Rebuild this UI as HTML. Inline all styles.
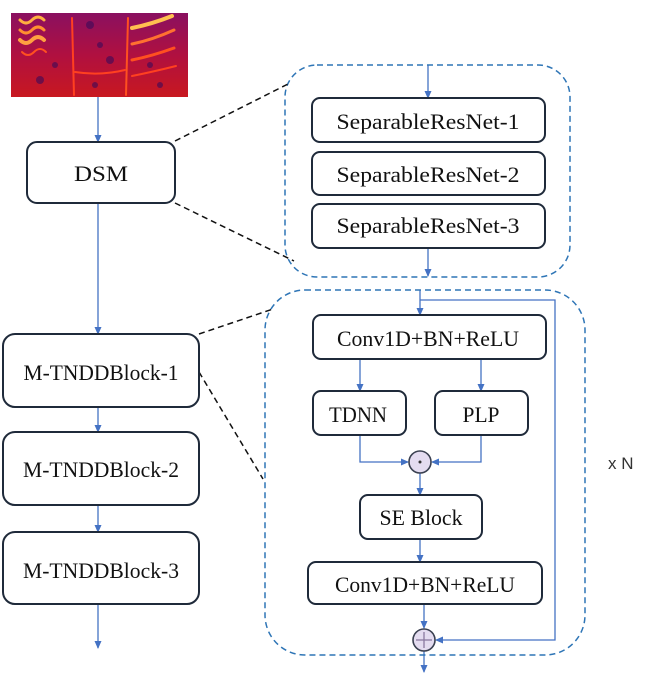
<!DOCTYPE html>
<html><head><meta charset="utf-8"><style>
html,body{margin:0;padding:0;background:#fff;}
svg{display:block;}
text{font-family:"Liberation Serif",serif;fill:#111;}
</style></head><body>
<svg width="658" height="681" viewBox="0 0 658 681" xmlns="http://www.w3.org/2000/svg">
<defs>
<marker id="a" markerWidth="8" markerHeight="8" refX="7" refY="4" orient="auto" markerUnits="userSpaceOnUse"><path d="M0,0.5 L8,4 L0,7.5 Z" fill="#4472c4"/></marker>
<linearGradient id="sg" x1="0" y1="0" x2="0" y2="1"><stop offset="0" stop-color="#8a1060"/><stop offset="0.5" stop-color="#b01040"/><stop offset="1" stop-color="#c81820"/></linearGradient>
</defs>
<rect x="11" y="13" width="177" height="84" fill="url(#sg)"/>
<g fill="none" stroke-linecap="round">
<path d="M20,20 q6,6 12,0 q6,-6 12,0" stroke="#ffb040" stroke-width="3"/>
<path d="M20,30 q6,6 12,0 q6,-6 12,0" stroke="#ff9030" stroke-width="3"/>
<path d="M20,40 q6,6 12,0 q6,-6 12,0" stroke="#ffa040" stroke-width="4"/>
<path d="M22,52 q6,6 12,0 q6,-6 12,0" stroke="#ff5020" stroke-width="2"/>
<path d="M132,28 q20,-4 40,-12" stroke="#ffc050" stroke-width="4"/>
<path d="M132,44 q20,-4 42,-14" stroke="#ff7030" stroke-width="3"/>
<path d="M132,60 q20,-4 42,-12" stroke="#ff5020" stroke-width="3"/>
<path d="M132,76 q20,-4 44,-10" stroke="#ff4020" stroke-width="2"/>
<path d="M72,18 L74,95" stroke="#ff4020" stroke-width="2"/>
<path d="M128,18 L126,95" stroke="#ff5020" stroke-width="2"/>
<path d="M75,72 q25,4 50,-2" stroke="#ff4020" stroke-width="2"/>
</g>
<g fill="#3a0a5a" opacity="0.6">
<circle cx="90" cy="25" r="4"/><circle cx="100" cy="45" r="3"/><circle cx="110" cy="60" r="4"/><circle cx="160" cy="85" r="3"/><circle cx="40" cy="80" r="4"/><circle cx="55" cy="65" r="3"/><circle cx="95" cy="85" r="3"/><circle cx="150" cy="65" r="3"/>
</g>

<g stroke="#4472c4" stroke-width="1.3" fill="none">
<line x1="98" y1="97" x2="98" y2="142" marker-end="url(#a)"/>
<line x1="98" y1="203" x2="98" y2="334" marker-end="url(#a)"/>
<line x1="98" y1="407" x2="98" y2="432" marker-end="url(#a)"/>
<line x1="98" y1="505" x2="98" y2="532" marker-end="url(#a)"/>
<line x1="98" y1="604" x2="98" y2="648" marker-end="url(#a)"/>
<line x1="428" y1="65" x2="428" y2="98" marker-end="url(#a)"/>
<line x1="428" y1="142" x2="428" y2="276" stroke-width="0"/>
<line x1="428" y1="248" x2="428" y2="276" marker-end="url(#a)"/>
<line x1="420" y1="290" x2="420" y2="315" marker-end="url(#a)"/>
<polyline points="420,300 555,300 555,640 436,640" marker-end="url(#a)"/>
<line x1="360" y1="359" x2="360" y2="391" marker-end="url(#a)"/>
<line x1="481" y1="359" x2="481" y2="391" marker-end="url(#a)"/>
<polyline points="360,435 360,462 408,462" marker-end="url(#a)"/>
<polyline points="481,435 481,462 432,462" marker-end="url(#a)"/>
<line x1="420" y1="473" x2="420" y2="495" marker-end="url(#a)"/>
<line x1="420" y1="539" x2="420" y2="562" marker-end="url(#a)"/>
<line x1="424" y1="604" x2="424" y2="628" marker-end="url(#a)"/>
<line x1="424" y1="651" x2="424" y2="672" marker-end="url(#a)"/>
</g>

<g stroke="#2e75b6" stroke-width="1.5" stroke-dasharray="6,4" fill="none">
<rect x="285" y="65" width="285" height="212" rx="32"/>
<rect x="265" y="290" width="320" height="365" rx="40"/>
</g>
<g stroke="#111" stroke-width="1.5" stroke-dasharray="6,4" fill="none">
<line x1="175" y1="141" x2="290" y2="83"/>
<line x1="175" y1="203" x2="294" y2="261"/>
<line x1="199" y1="334" x2="273" y2="309"/>
<line x1="199" y1="372" x2="263" y2="479"/>
</g>

<g stroke="#1f2a3a" stroke-width="2" fill="#fff">
<rect x="27" y="142" width="148" height="61" rx="10"/>
<rect x="312" y="98" width="233" height="44" rx="8"/>
<rect x="312" y="152" width="233" height="43" rx="8"/>
<rect x="312" y="204" width="233" height="44" rx="8"/>
<rect x="3" y="334" width="196" height="73" rx="12"/>
<rect x="3" y="432" width="196" height="73" rx="12"/>
<rect x="3" y="532" width="196" height="72" rx="12"/>
<rect x="313" y="315" width="233" height="44" rx="8"/>
<rect x="313" y="391" width="93" height="44" rx="8"/>
<rect x="435" y="391" width="93" height="44" rx="8"/>
<rect x="360" y="495" width="122" height="44" rx="8"/>
<rect x="308" y="562" width="234" height="42" rx="8"/>
</g>
<g stroke="#3a4050" stroke-width="1.6" fill="#e4dcf0">
<circle cx="420" cy="462" r="11"/>
<circle cx="424" cy="640" r="11"/>
</g>
<circle cx="420" cy="462" r="1.5" fill="#333"/>
<g stroke="#8a7aa0" stroke-width="1.3"><line x1="416" y1="640" x2="432" y2="640"/><line x1="424" y1="632" x2="424" y2="648"/></g>

<g font-size="22" text-anchor="middle" lengthAdjust="spacingAndGlyphs">
<text x="101" y="181" textLength="54" lengthAdjust="spacingAndGlyphs">DSM</text>
<text x="428" y="129" textLength="183" lengthAdjust="spacingAndGlyphs">SeparableResNet-1</text>
<text x="428" y="182" textLength="183" lengthAdjust="spacingAndGlyphs">SeparableResNet-2</text>
<text x="428" y="233" textLength="183" lengthAdjust="spacingAndGlyphs">SeparableResNet-3</text>
<text x="101" y="380" textLength="155" lengthAdjust="spacingAndGlyphs">M-TNDDBlock-1</text>
<text x="101" y="477" textLength="156" lengthAdjust="spacingAndGlyphs">M-TNDDBlock-2</text>
<text x="101" y="578" textLength="156" lengthAdjust="spacingAndGlyphs">M-TNDDBlock-3</text>
<text x="428" y="346" textLength="182" lengthAdjust="spacingAndGlyphs">Conv1D+BN+ReLU</text>
<text x="358" y="422" textLength="58" lengthAdjust="spacingAndGlyphs">TDNN</text>
<text x="481" y="422" textLength="37" lengthAdjust="spacingAndGlyphs">PLP</text>
<text x="421" y="525" textLength="83" lengthAdjust="spacingAndGlyphs">SE Block</text>
<text x="425" y="592" textLength="180" lengthAdjust="spacingAndGlyphs">Conv1D+BN+ReLU</text>
</g>
<text x="608" y="469" font-size="17" style="font-family:'Liberation Sans',sans-serif;fill:#333">x N</text>
</svg>
</body></html>
